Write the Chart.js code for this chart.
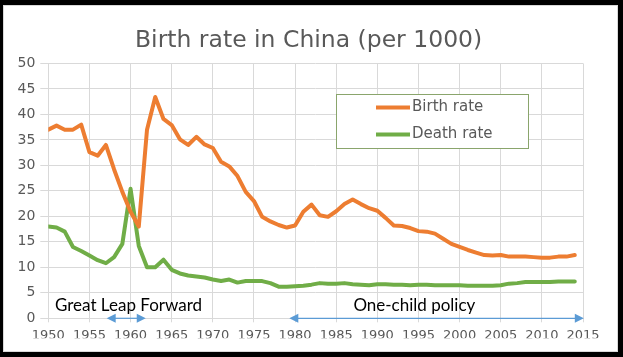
<!DOCTYPE html>
<html>
<head>
<meta charset="utf-8">
<script src="https://cdn.jsdelivr.net/npm/chart.js@4"></script>
<style>
  html, body { margin: 0; padding: 0; background: #000; width: 623px; height: 357px; overflow: hidden; }
  #panel { position: absolute; left: 3px; top: 5px; width: 615px; height: 347px; background: #fff; box-sizing: border-box; border: 1px solid #d9d9d9; }
  #c { position: absolute; left: 0; top: 0; }
</style>
</head>
<body>
<div id="panel"></div>
<canvas id="c" width="623" height="357"></canvas>
<script>
// ---- data ----
const chartTitle = 'Birth rate in China (per 1000)';
const years = [1950,1951,1952,1953,1954,1955,1956,1957,1958,1959,
               1960,1961,1962,1963,1964,1965,1966,1967,1968,1969,
               1970,1971,1972,1973,1974,1975,1976,1977,1978,1979,
               1980,1981,1982,1983,1984,1985,1986,1987,1988,1989,
               1990,1991,1992,1993,1994,1995,1996,1997,1998,1999,
               2000,2001,2002,2003,2004,2005,2006,2007,2008,2009,
               2010,2011,2012,2013,2014];
const birthRate = [37.0,37.8,37.0,37.0,38.0,32.6,31.9,34.0,29.2,24.8,
                   20.9,18.0,37.0,43.4,39.1,37.9,35.1,34.0,35.6,34.1,
                   33.4,30.7,29.8,27.9,24.8,23.0,19.9,19.0,18.3,17.8,
                   18.2,20.9,22.3,20.2,19.9,21.0,22.4,23.3,22.4,21.6,
                   21.1,19.7,18.2,18.1,17.7,17.1,17.0,16.6,15.6,14.6,
                   14.0,13.4,12.9,12.4,12.3,12.4,12.1,12.1,12.1,12.0,
                   11.9,11.9,12.1,12.1,12.4];
const deathRate = [18.0,17.8,17.0,14.0,13.2,12.3,11.4,10.8,12.0,14.6,
                   25.4,14.2,10.0,10.0,11.5,9.5,8.8,8.4,8.2,8.0,
                   7.6,7.3,7.6,7.0,7.3,7.3,7.3,6.9,6.2,6.2,
                   6.3,6.4,6.6,6.9,6.8,6.8,6.9,6.7,6.6,6.5,
                   6.7,6.7,6.6,6.6,6.5,6.6,6.6,6.5,6.5,6.5,
                   6.5,6.4,6.4,6.4,6.4,6.5,6.8,6.9,7.1,7.1,
                   7.1,7.1,7.2,7.2,7.2];
const seriesNames = ['Birth rate', 'Death rate'];
const xTickLabels = ['1950','1955','1960','1965','1970','1975','1980','1985','1990','1995','2000','2005','2010','2015'];
const yTickLabels = ['0','5','10','15','20','25','30','35','40','45','50'];
const periodNames = ['Great Leap Forward', 'One-child policy'];
const periodStart = [1957.1, 1979.3];
const periodEnd   = [1961.85, 2015.1];
const periodLabelX = [1959.75, 1994.5];
const periodLabelY = [1.4, 1.4];

const COLORS = ['#ed7d31', '#70ad47'];
const TEXT = '#595959';
const GRID = '#d9d9d9';
const ARROW = '#5b9bd5';

const toPts = arr => arr.map((v, i) => ({ x: years[i], y: v }));

const overlayPlugin = {
  id: 'overlay',
  afterDatasetsDraw(chart) {
    const ctx = chart.ctx;
    const xs = chart.scales.x, ys = chart.scales.y;
    ctx.save();
    // title
    ctx.font = '23.5px "DejaVu Sans"';
    ctx.fillStyle = TEXT;
    ctx.textAlign = 'center';
    ctx.textBaseline = 'alphabetic';
    ctx.fillText(chartTitle, 308.6, 47);
    // period annotations
    ctx.font = '17px Lato';
    ctx.fillStyle = '#000';
    for (let i = 0; i < periodNames.length; i++) {
      ctx.fillStyle = '#000';
      ctx.fillText(periodNames[i], xs.getPixelForValue(periodLabelX[i]), ys.getPixelForValue(periodLabelY[i]));
      const x1 = xs.getPixelForValue(periodStart[i]);
      const x2 = xs.getPixelForValue(periodEnd[i]);
      const y = ys.getPixelForValue(0);
      const hl = 9, hw = 4.5;
      ctx.strokeStyle = ARROW;
      ctx.fillStyle = ARROW;
      ctx.lineWidth = 1.2;
      ctx.beginPath();
      ctx.moveTo(x1 + hl - 1, y); ctx.lineTo(x2 - hl + 1, y); ctx.stroke();
      ctx.beginPath();
      ctx.moveTo(x1, y); ctx.lineTo(x1 + hl, y - hw); ctx.lineTo(x1 + hl, y + hw); ctx.closePath(); ctx.fill();
      ctx.beginPath();
      ctx.moveTo(x2, y); ctx.lineTo(x2 - hl, y - hw); ctx.lineTo(x2 - hl, y + hw); ctx.closePath(); ctx.fill();
    }
    // legend box
    const bx = 336, by = 94, bw = 192, bh = 54;
    ctx.fillStyle = '#fff';
    ctx.fillRect(bx, by, bw, bh);
    ctx.strokeStyle = '#8aa56c';
    ctx.lineWidth = 1;
    ctx.strokeRect(bx + 0.5, by + 0.5, bw, bh);
    ctx.font = '15px "DejaVu Sans"';
    ctx.textAlign = 'left';
    ctx.textBaseline = 'middle';
    chart.data.datasets.forEach((ds, i) => {
      const ly = by + 13.5 + i * 27;
      ctx.strokeStyle = ds.borderColor;
      ctx.lineWidth = 4;
      ctx.beginPath(); ctx.moveTo(376, ly); ctx.lineTo(410, ly); ctx.stroke();
      ctx.fillStyle = TEXT;
      ctx.fillText(ds.label, 412, ly);
    });
    ctx.restore();
  }
};

new Chart(document.getElementById('c'), {
  type: 'line',
  data: {
    datasets: [
      { label: seriesNames[0], data: toPts(birthRate), borderColor: COLORS[0], backgroundColor: COLORS[0],
        borderWidth: 4, pointRadius: 0, tension: 0, borderJoinStyle: 'round', borderCapStyle: 'round' },
      { label: seriesNames[1], data: toPts(deathRate), borderColor: COLORS[1], backgroundColor: COLORS[1],
        borderWidth: 4, pointRadius: 0, tension: 0, borderJoinStyle: 'round', borderCapStyle: 'round' }
    ]
  },
  options: {
    responsive: false,
    animation: false,
    events: [],
    layout: { padding: { left: 0, right: 40, top: 63.4, bottom: 18.7 } },
    plugins: {
      legend: { display: false },
      tooltip: { enabled: false },
      title: { display: false }
    },
    scales: {
      x: {
        type: 'linear',
        min: 1950, max: 2015,
        afterFit: s => { s.height = 20; },
        afterBuildTicks: s => { s.ticks = xTickLabels.map(t => ({ value: Number(t) })); },
        ticks: {
          callback: (v) => xTickLabels.find(t => Number(t) === v) || '',
          color: TEXT, font: { family: '"DejaVu Sans"', size: 13 }, padding: 6, maxRotation: 0, autoSkip: false
        },
        grid: { color: GRID, lineWidth: 1, tickLength: 4, drawTicks: true },
        border: { color: GRID }
      },
      y: {
        min: 0, max: 50,
        afterFit: s => { s.width = 48.3; },
        afterBuildTicks: s => { s.ticks = yTickLabels.map(t => ({ value: Number(t) })); },
        ticks: {
          callback: (v) => yTickLabels.find(t => Number(t) === v) || '',
          color: TEXT, font: { family: '"DejaVu Sans"', size: 14 }, padding: 5
        },
        grid: { color: GRID, lineWidth: 1, tickLength: 8 },
        border: { display: false }
      }
    }
  },
  plugins: [overlayPlugin]
});
</script>
</body>
</html>
